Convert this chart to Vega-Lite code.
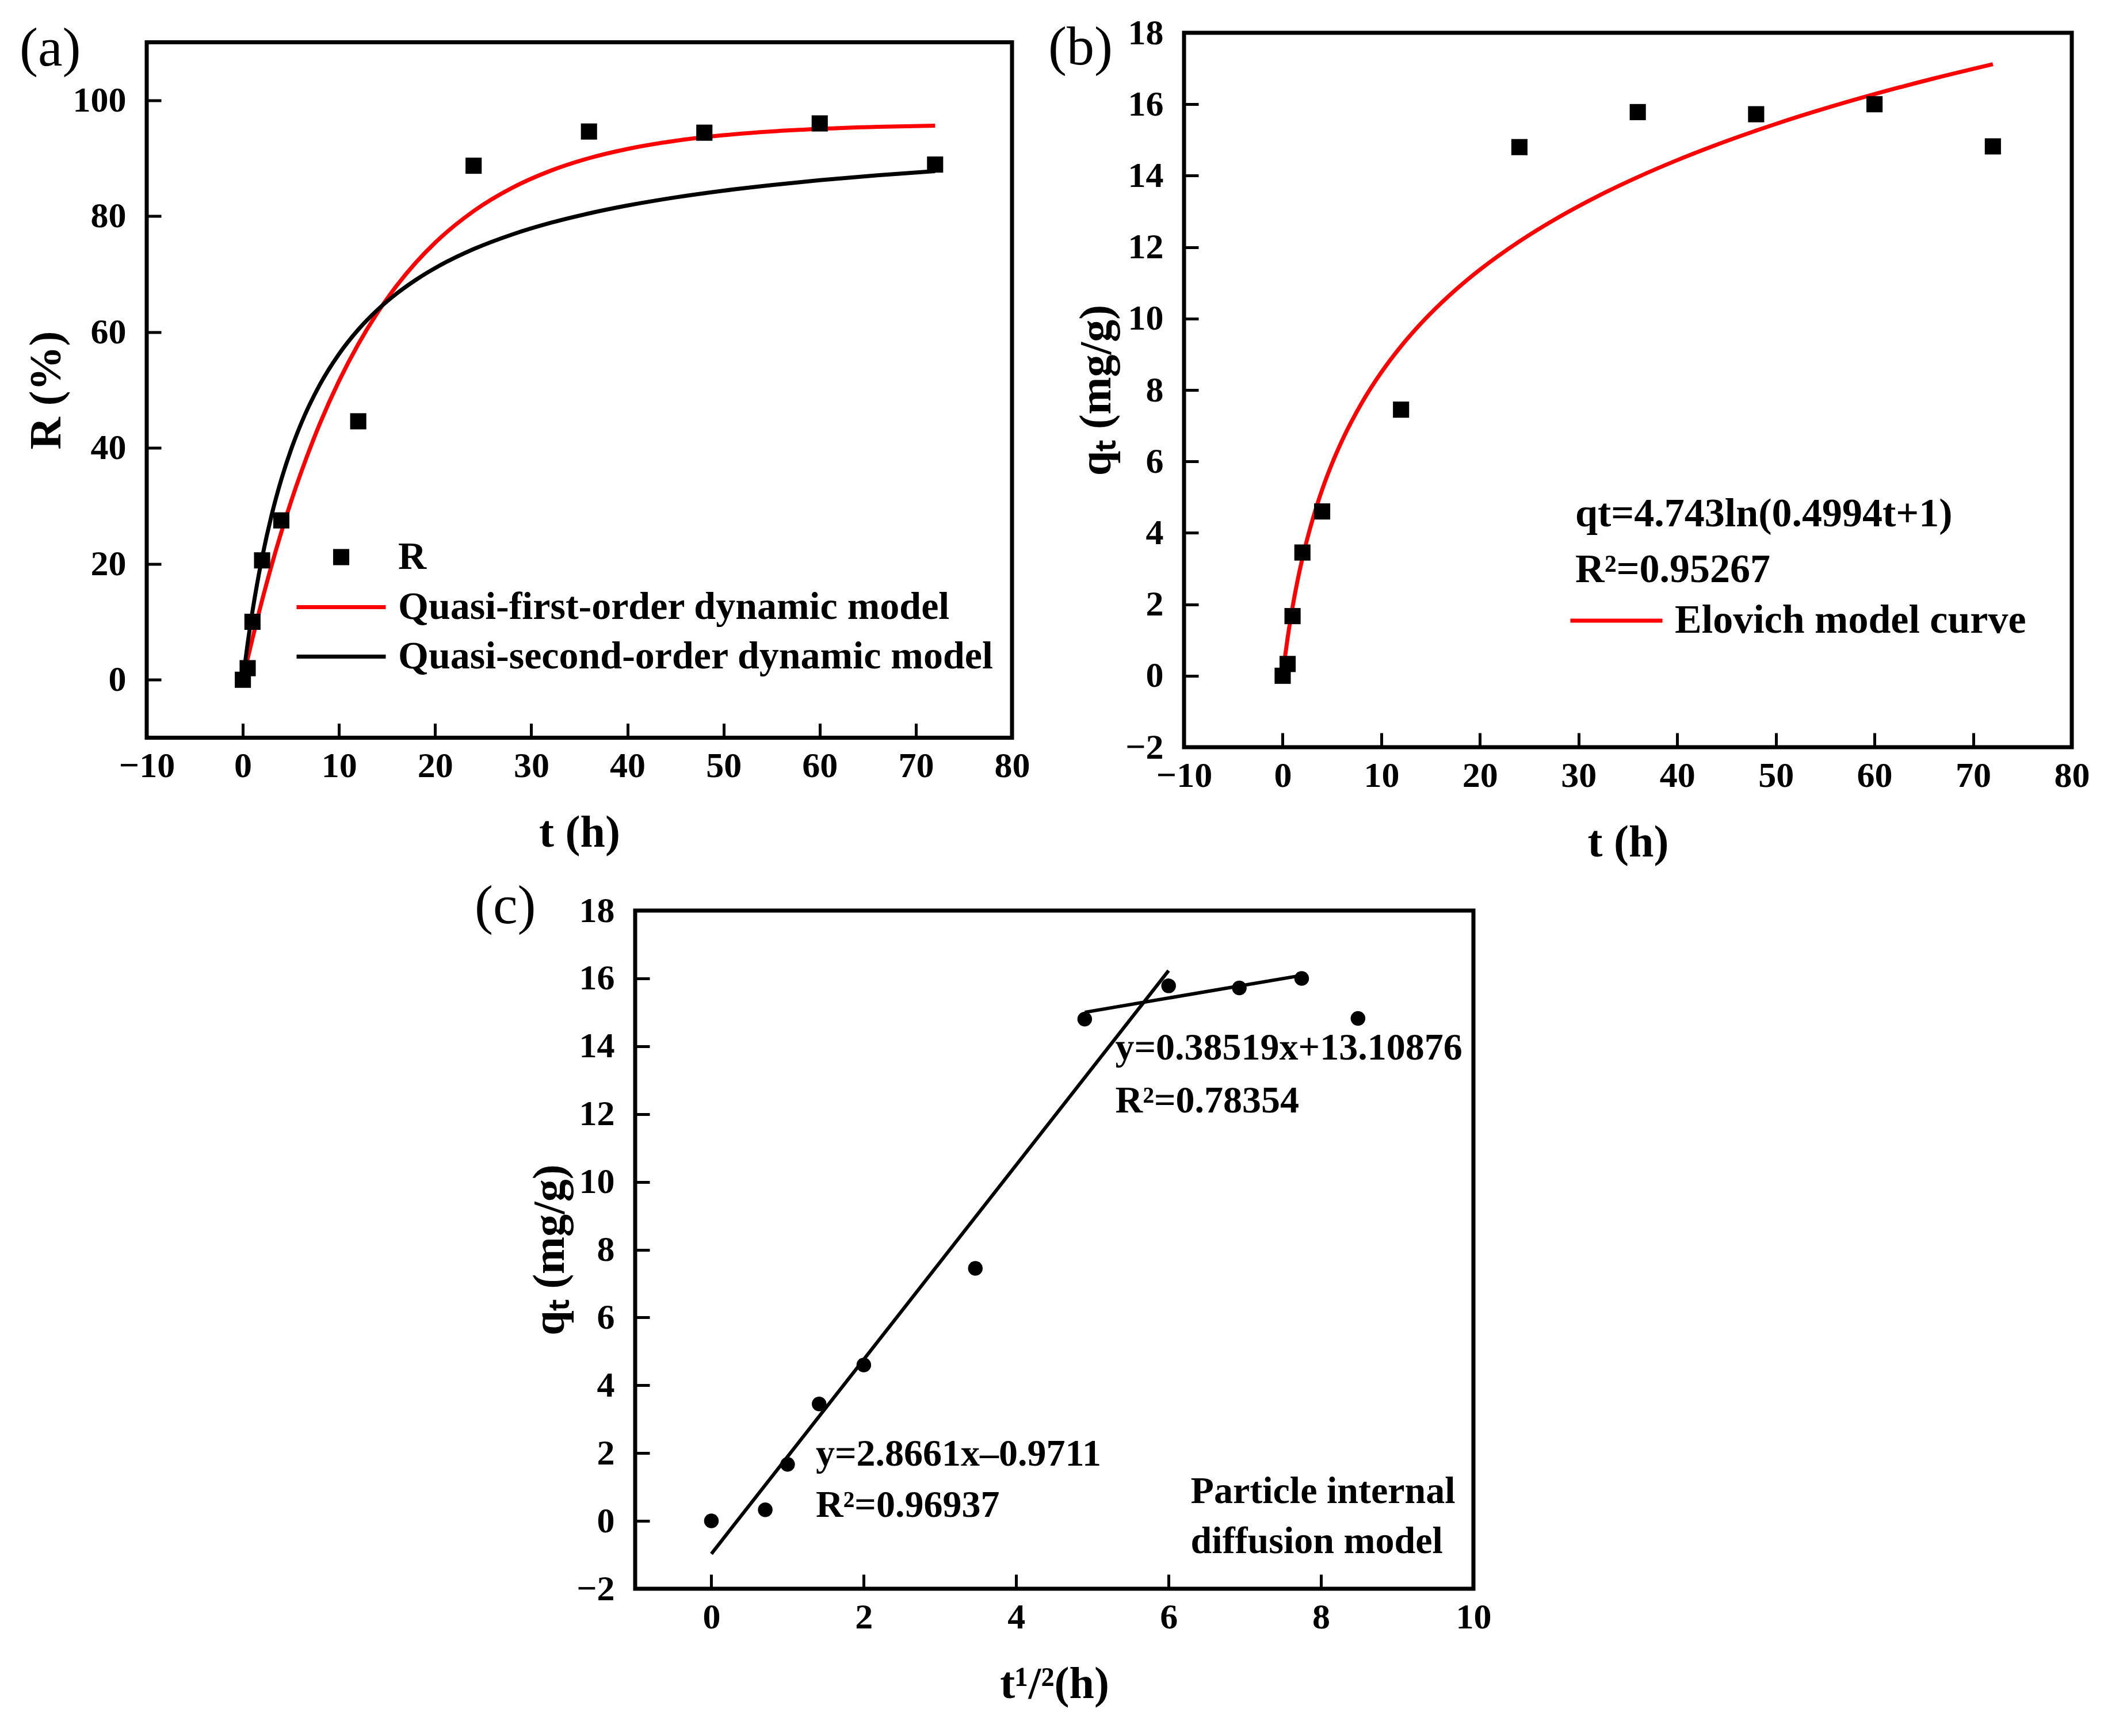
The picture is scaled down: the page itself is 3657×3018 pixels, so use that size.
{
  "$schema": "https://vega.github.io/schema/vega-lite/v6.json",
  "background": "white",
  "padding": {"left": 30, "top": 22, "right": 0, "bottom": 0},
  "datasets": {
    "kinetics": [
      {"t": 0, "sqrt_t": 0, "R": 0, "qt": 0, "series": "R"},
      {"t": 0.5, "sqrt_t": 0.707, "R": 2.0, "qt": 0.33, "series": "R"},
      {"t": 1, "sqrt_t": 1.0, "R": 10.0, "qt": 1.67, "series": "R"},
      {"t": 2, "sqrt_t": 1.414, "R": 20.6, "qt": 3.45, "series": "R"},
      {"t": 4, "sqrt_t": 2.0, "R": 27.5, "qt": 4.6, "series": "R"},
      {"t": 12, "sqrt_t": 3.464, "R": 44.6, "qt": 7.45, "series": "R"},
      {"t": 24, "sqrt_t": 4.899, "R": 88.7, "qt": 14.8, "series": "R"},
      {"t": 36, "sqrt_t": 6.0, "R": 94.6, "qt": 15.78, "series": "R"},
      {"t": 48, "sqrt_t": 6.928, "R": 94.4, "qt": 15.72, "series": "R"},
      {"t": 60, "sqrt_t": 7.746, "R": 96.0, "qt": 16.0, "series": "R"},
      {"t": 72, "sqrt_t": 8.485, "R": 88.9, "qt": 14.82, "series": "R"}
    ],
    "fits_a": [
      {"model": "Quasi-first-order dynamic model", "t": 0, "R": 0},
      {"model": "Quasi-first-order dynamic model", "t": 0.5, "R": 3.63},
      {"model": "Quasi-first-order dynamic model", "t": 1, "R": 7.11},
      {"model": "Quasi-first-order dynamic model", "t": 1.5, "R": 10.47},
      {"model": "Quasi-first-order dynamic model", "t": 2, "R": 13.7},
      {"model": "Quasi-first-order dynamic model", "t": 3, "R": 19.8},
      {"model": "Quasi-first-order dynamic model", "t": 4, "R": 25.45},
      {"model": "Quasi-first-order dynamic model", "t": 5, "R": 30.68},
      {"model": "Quasi-first-order dynamic model", "t": 6, "R": 35.52},
      {"model": "Quasi-first-order dynamic model", "t": 8, "R": 44.15},
      {"model": "Quasi-first-order dynamic model", "t": 10, "R": 51.55},
      {"model": "Quasi-first-order dynamic model", "t": 12, "R": 57.89},
      {"model": "Quasi-first-order dynamic model", "t": 14, "R": 63.34},
      {"model": "Quasi-first-order dynamic model", "t": 16, "R": 68.0},
      {"model": "Quasi-first-order dynamic model", "t": 18, "R": 71.99},
      {"model": "Quasi-first-order dynamic model", "t": 20, "R": 75.42},
      {"model": "Quasi-first-order dynamic model", "t": 24, "R": 80.87},
      {"model": "Quasi-first-order dynamic model", "t": 28, "R": 84.88},
      {"model": "Quasi-first-order dynamic model", "t": 32, "R": 87.83},
      {"model": "Quasi-first-order dynamic model", "t": 36, "R": 90.0},
      {"model": "Quasi-first-order dynamic model", "t": 40, "R": 91.59},
      {"model": "Quasi-first-order dynamic model", "t": 45, "R": 93.0},
      {"model": "Quasi-first-order dynamic model", "t": 50, "R": 93.96},
      {"model": "Quasi-first-order dynamic model", "t": 55, "R": 94.61},
      {"model": "Quasi-first-order dynamic model", "t": 60, "R": 95.05},
      {"model": "Quasi-first-order dynamic model", "t": 66, "R": 95.4},
      {"model": "Quasi-first-order dynamic model", "t": 72, "R": 95.62},
      {"model": "Quasi-second-order dynamic model", "t": 0, "R": 0},
      {"model": "Quasi-second-order dynamic model", "t": 0.5, "R": 6.29},
      {"model": "Quasi-second-order dynamic model", "t": 1, "R": 11.81},
      {"model": "Quasi-second-order dynamic model", "t": 1.5, "R": 16.7},
      {"model": "Quasi-second-order dynamic model", "t": 2, "R": 21.05},
      {"model": "Quasi-second-order dynamic model", "t": 3, "R": 28.47},
      {"model": "Quasi-second-order dynamic model", "t": 4, "R": 34.56},
      {"model": "Quasi-second-order dynamic model", "t": 5, "R": 39.65},
      {"model": "Quasi-second-order dynamic model", "t": 6, "R": 43.97},
      {"model": "Quasi-second-order dynamic model", "t": 8, "R": 50.9},
      {"model": "Quasi-second-order dynamic model", "t": 10, "R": 56.21},
      {"model": "Quasi-second-order dynamic model", "t": 12, "R": 60.41},
      {"model": "Quasi-second-order dynamic model", "t": 14, "R": 63.82},
      {"model": "Quasi-second-order dynamic model", "t": 16, "R": 66.64},
      {"model": "Quasi-second-order dynamic model", "t": 18, "R": 69.01},
      {"model": "Quasi-second-order dynamic model", "t": 20, "R": 71.04},
      {"model": "Quasi-second-order dynamic model", "t": 24, "R": 74.31},
      {"model": "Quasi-second-order dynamic model", "t": 28, "R": 76.83},
      {"model": "Quasi-second-order dynamic model", "t": 32, "R": 78.84},
      {"model": "Quasi-second-order dynamic model", "t": 36, "R": 80.47},
      {"model": "Quasi-second-order dynamic model", "t": 40, "R": 81.83},
      {"model": "Quasi-second-order dynamic model", "t": 45, "R": 83.24},
      {"model": "Quasi-second-order dynamic model", "t": 50, "R": 84.4},
      {"model": "Quasi-second-order dynamic model", "t": 55, "R": 85.37},
      {"model": "Quasi-second-order dynamic model", "t": 60, "R": 86.2},
      {"model": "Quasi-second-order dynamic model", "t": 66, "R": 87.05},
      {"model": "Quasi-second-order dynamic model", "t": 72, "R": 87.76}
    ],
    "fit_b": [
      {"model": "Elovich model curve", "t": 0, "qt": 0},
      {"model": "Elovich model curve", "t": 0.25, "qt": 0.558},
      {"model": "Elovich model curve", "t": 0.5, "qt": 1.057},
      {"model": "Elovich model curve", "t": 1, "qt": 1.921},
      {"model": "Elovich model curve", "t": 1.5, "qt": 2.652},
      {"model": "Elovich model curve", "t": 2, "qt": 3.285},
      {"model": "Elovich model curve", "t": 3, "qt": 4.343},
      {"model": "Elovich model curve", "t": 4, "qt": 5.207},
      {"model": "Elovich model curve", "t": 5, "qt": 5.938},
      {"model": "Elovich model curve", "t": 6, "qt": 6.571},
      {"model": "Elovich model curve", "t": 8, "qt": 7.629},
      {"model": "Elovich model curve", "t": 10, "qt": 8.494},
      {"model": "Elovich model curve", "t": 12, "qt": 9.225},
      {"model": "Elovich model curve", "t": 14, "qt": 9.858},
      {"model": "Elovich model curve", "t": 16, "qt": 10.416},
      {"model": "Elovich model curve", "t": 18, "qt": 10.916},
      {"model": "Elovich model curve", "t": 20, "qt": 11.368},
      {"model": "Elovich model curve", "t": 24, "qt": 12.16},
      {"model": "Elovich model curve", "t": 28, "qt": 12.839},
      {"model": "Elovich model curve", "t": 32, "qt": 13.433},
      {"model": "Elovich model curve", "t": 36, "qt": 13.96},
      {"model": "Elovich model curve", "t": 40, "qt": 14.435},
      {"model": "Elovich model curve", "t": 45, "qt": 14.968},
      {"model": "Elovich model curve", "t": 50, "qt": 15.448},
      {"model": "Elovich model curve", "t": 55, "qt": 15.883},
      {"model": "Elovich model curve", "t": 60, "qt": 16.282},
      {"model": "Elovich model curve", "t": 66, "qt": 16.72},
      {"model": "Elovich model curve", "t": 72, "qt": 17.121}
    ],
    "lines_c": [
      {"stage": "first", "sqrt_t": 0, "qt": -0.97},
      {"stage": "first", "sqrt_t": 6.0, "qt": 16.23},
      {"stage": "second", "sqrt_t": 4.9, "qt": 15.0},
      {"stage": "second", "sqrt_t": 7.75, "qt": 16.09}
    ]
  },
  "config": {
    "font": "Liberation Serif",
    "view": {"stroke": "#000000", "strokeWidth": 7, "fill": "white"},
    "axis": {
      "domain": false,
      "grid": false,
      "tickSize": -25,
      "tickWidth": 5,
      "tickColor": "#000000",
      "labelFont": "Liberation Serif",
      "labelFontSize": 62,
      "labelFontWeight": "bold",
      "labelColor": "#000000",
      "labelFlush": false,
      "labelOverlap": false,
      "labelPadding": 61,
      "titleFont": "Liberation Serif",
      "titleFontSize": 78,
      "titleFontWeight": "bold",
      "titleColor": "#000000",
      "titlePadding": 6
    },
    "axisX": {"labelPadding": 44, "titlePadding": 47},
    "legend": {
      "labelFont": "Liberation Serif",
      "labelFontSize": 68,
      "labelFontWeight": "bold",
      "labelColor": "#000000",
      "labelLimit": 3000
    },
    "text": {"font": "Liberation Serif", "fontWeight": "bold", "color": "#000000", "align": "left", "baseline": "middle"},
    "title": {
      "font": "Liberation Serif",
      "fontSize": 96,
      "fontWeight": "normal",
      "color": "#000000",
      "anchor": "start",
      "frame": "group",
      "offset": 0,
      "baseline": "middle"
    }
  },
  "spacing": 1526,
  "bounds": "flush",
  "resolve": {
    "scale": {"color": "independent", "shape": "independent"},
    "legend": {"color": "independent", "shape": "independent"}
  },
  "vconcat": [
    {
      "hconcat": [
        {
          "width": 1504,
          "height": 1209,
          "title": {"text": "(a)", "dx": -221, "dy": 64},
          "layer": [
            {
              "data": {"name": "fits_a"},
              "mark": {"type": "line", "strokeWidth": 7, "interpolate": "monotone"},
              "encoding": {
                "x": {
                  "field": "t",
                  "type": "quantitative",
                  "scale": {"domain": [-10, 80], "nice": false, "zero": false},
                  "axis": {"values": [-10, 0, 10, 20, 30, 40, 50, 60, 70, 80], "format": "d", "title": "t (h)"}
                },
                "y": {
                  "field": "R",
                  "type": "quantitative",
                  "scale": {"domain": [-10, 110], "nice": false, "zero": false},
                  "axis": {"values": [0, 20, 40, 60, 80, 100], "format": "d", "title": "R (%)"}
                },
                "color": {
                  "field": "model",
                  "type": "nominal",
                  "scale": {
                    "domain": ["Quasi-first-order dynamic model", "Quasi-second-order dynamic model"],
                    "range": ["#ff0000", "#000000"]
                  },
                  "legend": {
                    "title": null,
                    "orient": "none",
                    "legendX": 257,
                    "legendY": 948,
                    "symbolType": "stroke",
                    "symbolSize": 24025,
                    "symbolStrokeWidth": 7,
                    "clipHeight": 68,
                    "labelOffset": 18,
                    "rowPadding": 18
                  }
                }
              }
            },
            {
              "data": {"name": "kinetics"},
              "mark": {"type": "point", "filled": true, "size": 790, "color": "#000000", "opacity": 1},
              "encoding": {
                "x": {
                  "field": "t",
                  "type": "quantitative",
                  "scale": {"domain": [-10, 80], "nice": false, "zero": false},
                  "axis": {"values": [-10, 0, 10, 20, 30, 40, 50, 60, 70, 80], "format": "d", "title": "t (h)"}
                },
                "y": {
                  "field": "R",
                  "type": "quantitative",
                  "scale": {"domain": [-10, 110], "nice": false, "zero": false},
                  "axis": {"values": [0, 20, 40, 60, 80, 100], "format": "d", "title": "R (%)"}
                },
                "shape": {
                  "field": "series",
                  "type": "nominal",
                  "scale": {"domain": ["R"], "range": ["square"]},
                  "legend": {
                    "title": null,
                    "orient": "none",
                    "legendX": 304,
                    "legendY": 861,
                    "symbolSize": 790,
                    "symbolFillColor": "#000000",
                    "symbolStrokeColor": "#000000",
                    "labelOffset": 65
                  }
                }
              }
            }
          ]
        },
        {
          "width": 1543,
          "height": 1242,
          "title": {"text": "(b)", "dx": -236, "dy": 110},
          "layer": [
            {
              "data": {"name": "fit_b"},
              "mark": {"type": "line", "strokeWidth": 7, "interpolate": "monotone"},
              "encoding": {
                "x": {
                  "field": "t",
                  "type": "quantitative",
                  "scale": {"domain": [-10, 80], "nice": false, "zero": false},
                  "axis": {"values": [-10, 0, 10, 20, 30, 40, 50, 60, 70, 80], "format": "d", "title": "t (h)"}
                },
                "y": {
                  "field": "qt",
                  "type": "quantitative",
                  "scale": {"domain": [-2, 18], "nice": false, "zero": false},
                  "axis": {"values": [-2, 0, 2, 4, 6, 8, 10, 12, 14, 16, 18], "format": "d", "title": "qₜ (mg/g)", "titlePadding": 10}
                },
                "color": {
                  "field": "model",
                  "type": "nominal",
                  "scale": {"domain": ["Elovich model curve"], "range": ["#ff0000"]},
                  "legend": {
                    "title": null,
                    "orient": "none",
                    "legendX": 668,
                    "legendY": 987,
                    "symbolType": "stroke",
                    "symbolSize": 25600,
                    "symbolStrokeWidth": 7,
                    "clipHeight": 70,
                    "labelOffset": 18,
                    "labelFontSize": 70
                  }
                }
              }
            },
            {
              "data": {"name": "kinetics"},
              "mark": {"type": "point", "shape": "square", "filled": true, "size": 790, "color": "#000000", "opacity": 1},
              "encoding": {
                "x": {
                  "field": "t",
                  "type": "quantitative",
                  "scale": {"domain": [-10, 80], "nice": false, "zero": false},
                  "axis": {"values": [-10, 0, 10, 20, 30, 40, 50, 60, 70, 80], "format": "d", "title": "t (h)"}
                },
                "y": {
                  "field": "qt",
                  "type": "quantitative",
                  "scale": {"domain": [-2, 18], "nice": false, "zero": false},
                  "axis": {"values": [-2, 0, 2, 4, 6, 8, 10, 12, 14, 16, 18], "format": "d", "title": "qₜ (mg/g)", "titlePadding": 10}
                }
              }
            },
            {
              "data": {"values": [{}]},
              "mark": {"type": "text", "text": "qt=4.743ln(0.4994t+1)", "fontSize": 70},
              "encoding": {"x": {"datum": 29.67, "type": "quantitative"}, "y": {"datum": 4.52, "type": "quantitative"}}
            },
            {
              "data": {"values": [{}]},
              "mark": {"type": "text", "text": "R²=0.95267", "fontSize": 70},
              "encoding": {"x": {"datum": 29.67, "type": "quantitative"}, "y": {"datum": 2.96, "type": "quantitative"}}
            }
          ]
        }
      ],
      "spacing": 299,
      "bounds": "flush",
      "center": true,
      "resolve": {
        "scale": {"color": "independent", "shape": "independent"},
        "legend": {"color": "independent", "shape": "independent"}
      }
    },
    {
      "hconcat": [
        {
          "width": 829,
          "height": 10,
          "data": {"values": [{}]},
          "mark": {"type": "text", "text": ""},
          "view": {"stroke": null, "fill": null}
        },
        {
          "width": 1457,
          "height": 1179,
          "title": {"text": "(c)", "dx": -279, "dy": 77},
          "layer": [
            {
              "data": {"name": "lines_c"},
              "mark": {"type": "line", "strokeWidth": 6, "color": "#000000"},
              "encoding": {
                "x": {
                  "field": "sqrt_t",
                  "type": "quantitative",
                  "scale": {"domain": [-1, 10], "nice": false, "zero": false},
                  "axis": {"values": [0, 2, 4, 6, 8, 10], "format": "d", "title": "t¹/²(h)"}
                },
                "y": {
                  "field": "qt",
                  "type": "quantitative",
                  "scale": {"domain": [-2, 18], "nice": false, "zero": false},
                  "axis": {"values": [-2, 0, 2, 4, 6, 8, 10, 12, 14, 16, 18], "format": "d", "title": "qₜ (mg/g)", "titlePadding": 6}
                },
                "detail": {"field": "stage", "type": "nominal"}
              }
            },
            {
              "data": {"name": "kinetics"},
              "mark": {"type": "circle", "size": 650, "color": "#000000", "opacity": 1},
              "encoding": {
                "x": {
                  "field": "sqrt_t",
                  "type": "quantitative",
                  "scale": {"domain": [-1, 10], "nice": false, "zero": false},
                  "axis": {"values": [0, 2, 4, 6, 8, 10], "format": "d", "title": "t¹/²(h)"}
                },
                "y": {
                  "field": "qt",
                  "type": "quantitative",
                  "scale": {"domain": [-2, 18], "nice": false, "zero": false},
                  "axis": {"values": [-2, 0, 2, 4, 6, 8, 10, 12, 14, 16, 18], "format": "d", "title": "qₜ (mg/g)", "titlePadding": 6}
                }
              }
            },
            {
              "data": {"values": [{}]},
              "mark": {"type": "text", "text": "y=0.38519x+13.10876", "fontSize": 66},
              "encoding": {"x": {"datum": 5.3, "type": "quantitative"}, "y": {"datum": 13.95, "type": "quantitative"}}
            },
            {
              "data": {"values": [{}]},
              "mark": {"type": "text", "text": "R²=0.78354", "fontSize": 66},
              "encoding": {"x": {"datum": 5.3, "type": "quantitative"}, "y": {"datum": 12.38, "type": "quantitative"}}
            },
            {
              "data": {"values": [{}]},
              "mark": {"type": "text", "text": "y=2.8661x–0.9711", "fontSize": 66},
              "encoding": {"x": {"datum": 1.37, "type": "quantitative"}, "y": {"datum": 1.97, "type": "quantitative"}}
            },
            {
              "data": {"values": [{}]},
              "mark": {"type": "text", "text": "R²=0.96937", "fontSize": 66},
              "encoding": {"x": {"datum": 1.37, "type": "quantitative"}, "y": {"datum": 0.46, "type": "quantitative"}}
            },
            {
              "data": {"values": [{}]},
              "mark": {"type": "text", "text": "Particle internal", "fontSize": 66},
              "encoding": {"x": {"datum": 6.29, "type": "quantitative"}, "y": {"datum": 0.87, "type": "quantitative"}}
            },
            {
              "data": {"values": [{}]},
              "mark": {"type": "text", "text": "diffusion model", "fontSize": 66},
              "encoding": {"x": {"datum": 6.29, "type": "quantitative"}, "y": {"datum": -0.61, "type": "quantitative"}}
            }
          ]
        }
      ],
      "spacing": 20,
      "bounds": "flush"
    }
  ]
}
